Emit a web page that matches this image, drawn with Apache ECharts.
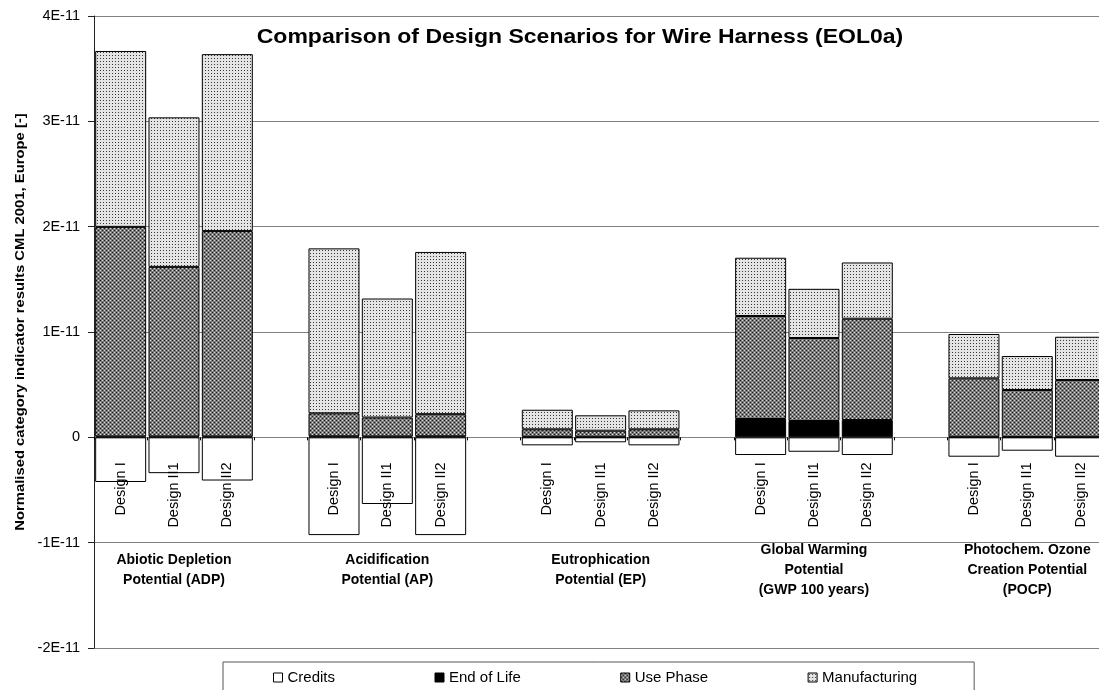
<!DOCTYPE html>
<html>
<head>
<meta charset="utf-8">
<script src="https://cdn.jsdelivr.net/npm/echarts@6/dist/echarts.min.js"></script>
<style>
  html, body { margin: 0; padding: 0; background: #fff; }
  #chart { width: 1099px; height: 690px; }
</style>
</head>
<body>
<div id="chart"></div>
<script>
// Normalised category indicator results (CML 2001, Europe), in units of 1E-12.
// Order inside every series: ADP, AP, EP, GWP, POCP, each for Design I, II1, II2.
const impactCategories = [
  'Abiotic Depletion\nPotential (ADP)',
  'Acidification\nPotential (AP)',
  'Eutrophication\nPotential (EP)',
  'Global Warming\nPotential\n(GWP 100 years)',
  'Photochem. Ozone\nCreation Potential\n(POCP)'
];
const designs = ['Design I', 'Design II1', 'Design II2'];

const credits       = [-4.24, -3.40, -4.10,  -9.28, -6.33, -9.28,  -0.76, -0.47, -0.76,  -1.68, -1.37, -1.68,  -1.84, -1.27, -1.84];
const endOfLife     = [ 0.08,  0.08,  0.08,   0.10,  0.08,  0.10,   0.05,  0.05,  0.05,   1.74,  1.55,  1.64,   0.05,  0.04,  0.05];
const usePhase      = [19.90, 16.10, 19.50,   2.18,  1.80,  2.10,   0.71,  0.58,  0.71,   9.78,  7.88,  9.62,   5.55,  4.45,  5.39];
const manufacturing = [16.70, 14.20, 16.80,  15.66, 11.30, 15.40,   1.86,  1.46,  1.80,   5.53,  4.67,  5.34,   4.21,  3.23,  4.11];

const seriesNames = ['Credits', 'End of Life', 'Use Phase', 'Manufacturing'];
const yTickLabels = ['-2E-11', '-1E-11', '0', '1E-11', '2E-11', '3E-11', '4E-11'];
const chartTitle = 'Comparison of Design Scenarios for Wire Harness (EOL0a)';
const yAxisTitle = 'Normalised category indicator results CML 2001, Europe [-]';

const FONT = '"Liberation Sans", Arial, Helvetica, sans-serif';

// Value axis range (1E-12 units) and plot geometry.
const Y_MIN = -20, Y_MAX = 40, Y_STEP = 10;
const PLOT_TOP = 16, PLOT_HEIGHT = 632, PLOT_LEFT = 94, SLOT_WIDTH = 53.33;

// Category slots: three designs per impact category, one empty slot between groups.
const slots = [];
const groupSlots = [];
const slotIndex = [];
impactCategories.forEach((name, g) => {
  if (g > 0) { slots.push(''); groupSlots.push(''); }
  designs.forEach((d, i) => {
    slotIndex.push(slots.length);
    slots.push(d);
    groupSlots.push(i === 1 ? name : '');
  });
});
function spread(values) {
  const out = slots.map(() => '-');
  values.forEach((v, k) => { out[slotIndex[k]] = v; });
  return out;
}

// Fill patterns for the stacked segments.
function pattern(w, h, bg, dots) {
  const c = document.createElement('canvas');
  c.width = w; c.height = h;
  const ctx = c.getContext('2d');
  ctx.fillStyle = bg;
  ctx.fillRect(0, 0, w, h);
  dots.forEach(([x, y, col]) => { ctx.fillStyle = col; ctx.fillRect(x, y, 1, 1); });
  return { image: c, repeat: 'repeat' };
}
const usePattern = pattern(4, 4, '#7a7a7a', [[0, 0, '#1e1e1e'], [2, 2, '#1e1e1e'], [2, 0, '#dcdcdc'], [0, 2, '#dcdcdc']]);
const mfgPattern = pattern(3, 3, '#e4e4e4', [[1, 1, '#383838']]);

const fills = ['#ffffff', '#000000', usePattern, mfgPattern];
const values = [credits, endOfLife, usePhase, manufacturing];

// The design labels sit on the zero line of the value axis.
const zeroOffset = -PLOT_HEIGHT * (0 - Y_MIN) / (Y_MAX - Y_MIN);

const chart = echarts.init(document.getElementById('chart'), null, { renderer: 'canvas' });

chart.setOption({
  animation: false,
  backgroundColor: '#ffffff',
  textStyle: { fontFamily: FONT, color: '#000' },
  grid: {
    left: PLOT_LEFT, top: PLOT_TOP,
    width: SLOT_WIDTH * slots.length,
    height: PLOT_HEIGHT,
    containLabel: false,
    outerBoundsMode: 'none'
  },
  graphic: [
    {
      type: 'text', x: 580, y: 37, scaleX: 1.15, z: 10,
      style: { text: chartTitle, font: 'bold 20px ' + FONT, fill: '#000', textAlign: 'center', textVerticalAlign: 'middle' }
    },
    {
      type: 'text', x: 20, y: 322, rotation: Math.PI / 2, scaleX: 1.14, z: 10,
      style: { text: yAxisTitle, font: 'bold 13px ' + FONT, fill: '#000', textAlign: 'center', textVerticalAlign: 'middle' }
    }
  ],
  legend: {
    data: seriesNames,
    left: 223, top: 662,
    orient: 'horizontal',
    padding: [8, 57, 22, 50],
    itemGap: 99.5,
    itemWidth: 9, itemHeight: 9,
    icon: 'rect',
    borderColor: '#555', borderWidth: 1,
    itemStyle: { borderColor: '#000', borderWidth: 1 },
    textStyle: { fontFamily: FONT, fontSize: 15, color: '#000' },
    selectedMode: false
  },
  xAxis: [
    {
      type: 'category',
      data: slots,
      position: 'bottom',
      offset: zeroOffset,
      z: 5,
      boundaryGap: true,
      axisLine: { show: false, onZero: false },
      axisTick: { show: true, length: 3, lineStyle: { color: '#000', width: 1 } },
      axisLabel: {
        interval: 0, rotate: 90, margin: 25,
        fontFamily: FONT, fontSize: 14.5, color: '#000'
      },
      splitLine: { show: false }
    },
    {
      type: 'category',
      data: groupSlots,
      position: 'bottom',
      offset: -88,
      z: 5,
      axisLine: { show: false, onZero: false },
      axisTick: { show: false },
      axisLabel: {
        interval: 0, margin: 10, verticalAlign: 'middle', align: 'center',
        fontFamily: FONT, fontSize: 14, fontWeight: 'bold', color: '#000', lineHeight: 20
      },
      splitLine: { show: false }
    }
  ],
  yAxis: {
    type: 'value',
    min: Y_MIN, max: Y_MAX, interval: Y_STEP,
    axisLine: { show: true, lineStyle: { color: '#222', width: 1 } },
    axisTick: { show: true, length: 6, lineStyle: { color: '#222' } },
    axisLabel: {
      margin: 14, fontFamily: FONT, fontSize: 14.5, color: '#000',
      formatter: v => yTickLabels[Math.round((v - Y_MIN) / Y_STEP)]
    },
    splitLine: { show: true, lineStyle: { color: '#808080', width: 1 } }
  },
  series: seriesNames.map((name, i) => ({
    name,
    type: 'bar',
    stack: 'total',
    barWidth: 51,
    xAxisIndex: 0,
    data: spread(values[i]),
    itemStyle: { color: fills[i], borderColor: '#000', borderWidth: 1 },
    emphasis: { disabled: true },
    silent: true
  }))
});
</script>
</body>
</html>
